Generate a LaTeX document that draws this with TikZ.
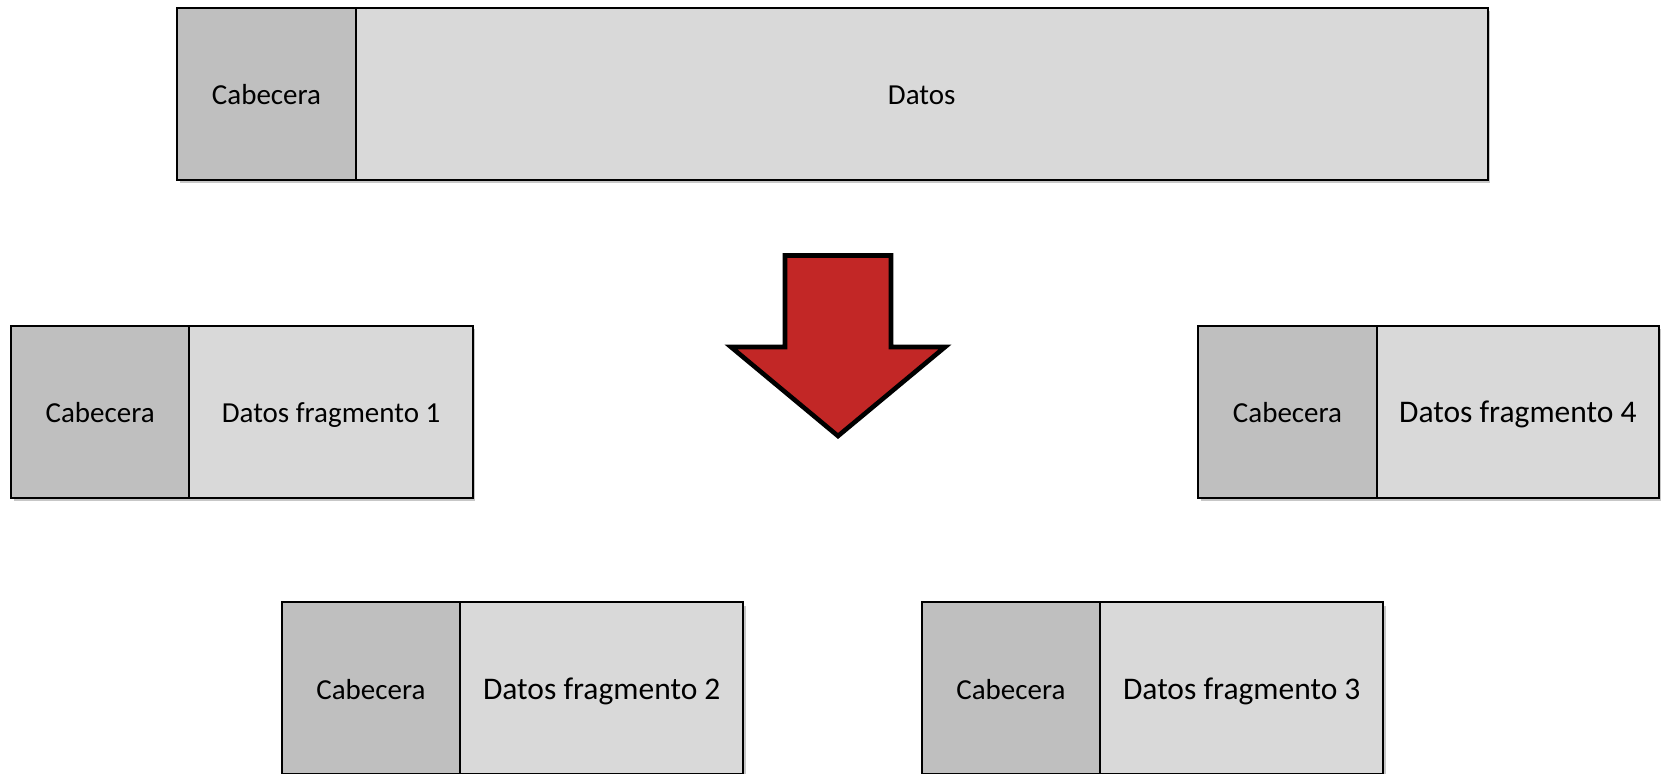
\documentclass[tikz,border=0pt]{standalone}
\usepackage{fontspec}
\setmainfont{Carlito}
\usetikzlibrary{shadows}
\definecolor{hdrgray}{RGB}{191,191,191}
\definecolor{datgray}{RGB}{217,217,217}
\definecolor{arrowred}{RGB}{194,39,38}
\tikzset{
  cell/.style={draw=black, line width=2pt, inner sep=0pt, outer sep=0pt,
    minimum height=172pt, anchor=north west, text height=22pt, text depth=0pt,
    drop shadow={shadow xshift=2.5pt, shadow yshift=-3.5pt, fill=black, opacity=0.22}},
  hdr/.style={cell, fill=hdrgray, minimum width=178.4pt, font=\fontsize{29}{34}\selectfont},
  dat/.style={cell, fill=datgray, minimum width=283.3pt},
  datA/.style={dat, font=\fontsize{29}{34}\selectfont},
  datB/.style={dat, font=\fontsize{31.5}{37}\selectfont},
  bigarrow/.style={fill=arrowred, draw=black, line width=4.6pt, line join=miter}
}
\begin{document}
\begin{tikzpicture}[x=1pt,y=-1pt]
\useasboundingbox (0,0) rectangle (1661,773);
\clip (0,0) rectangle (1661,773);
% top packet
\node[hdr] (h0) at (177.3,7.7) {Cabecera};
\node[cell, fill=datgray, minimum width=1132pt, font=\fontsize{29}{34}\selectfont] (d0) at (h0.north east) {Datos};
% fragment 1
\node[hdr] (h1) at (11,325.7) {Cabecera};
\node[datA] (d1) at (h1.north east) {Datos fragmento 1};
% fragment 4
\node[hdr] (h4) at (1198.3,325.7) {Cabecera};
\node[datB, minimum width=282.3pt] (d4) at (h4.north east) {Datos fragmento 4};
% fragment 2
\node[hdr] (h2) at (281.7,602.3) {Cabecera};
\node[datB] (d2) at (h2.north east) {Datos fragmento 2};
% fragment 3
\node[hdr] (h3) at (921.7,602.3) {Cabecera};
\node[datB] (d3) at (h3.north east) {Datos fragmento 3};
% big arrow
\draw[bigarrow] (785,255.5) -- (891,255.5) -- (891,347) -- (945,347) -- (838,436)
  -- (731,347) -- (785,347) -- cycle;
\end{tikzpicture}
\end{document}
